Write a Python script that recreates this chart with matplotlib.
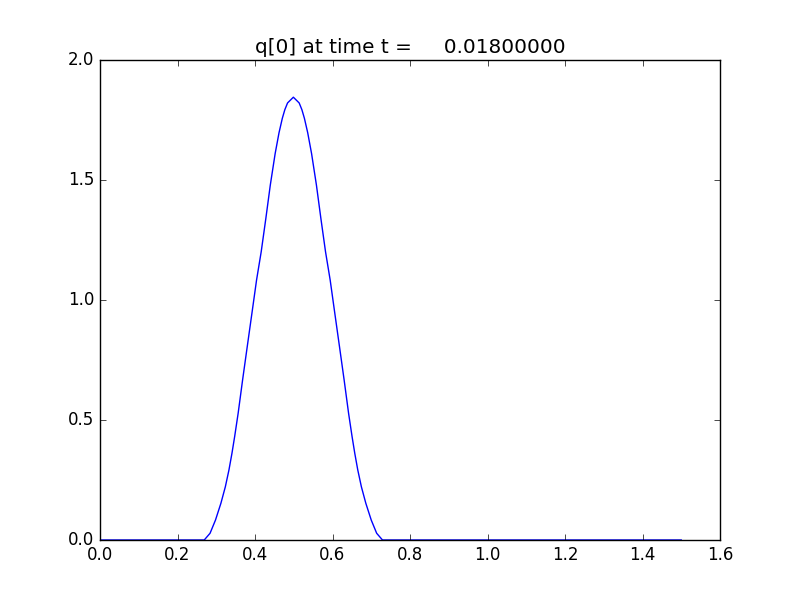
import matplotlib
matplotlib.use("Agg")
import matplotlib.pyplot as plt

plt.style.use("classic")

x_vals = [0.0, 0.269, 0.284, 0.298, 0.312, 0.3235, 0.3328, 0.3405, 0.3475, 0.3565,
          0.368, 0.380, 0.392, 0.404, 0.416, 0.428, 0.4395, 0.452, 0.462, 0.4705,
          0.477, 0.484, 0.499,
          0.514, 0.521, 0.5275, 0.536, 0.546, 0.5585, 0.570, 0.582, 0.594, 0.606,
          0.618, 0.630, 0.6415, 0.6505, 0.6575, 0.6652, 0.6745, 0.686, 0.700,
          0.714, 0.729, 1.5]
q_vals = [0.0, 0.0, 0.028, 0.083, 0.153, 0.222, 0.292, 0.361, 0.431, 0.528,
          0.667, 0.806, 0.944, 1.083, 1.201, 1.340, 1.479, 1.610, 1.697, 1.757,
          1.793, 1.821, 1.845,
          1.821, 1.793, 1.757, 1.697, 1.610, 1.479, 1.340, 1.201, 1.083, 0.944,
          0.806, 0.667, 0.528, 0.431, 0.361, 0.292, 0.222, 0.153, 0.083,
          0.028, 0.0, 0.0]

title_text = "q[0] at time t =     0.01800000"

fig = plt.figure(figsize=(8, 6), dpi=100)
ax = fig.add_subplot(111)
ax.plot(x_vals, q_vals, "b-", linewidth=1.0)
ax.set_xlim(0.0, 1.6)
ax.set_ylim(0.0, 2.0)
ax.set_title(title_text)
fig.savefig("out.png", dpi=100)
